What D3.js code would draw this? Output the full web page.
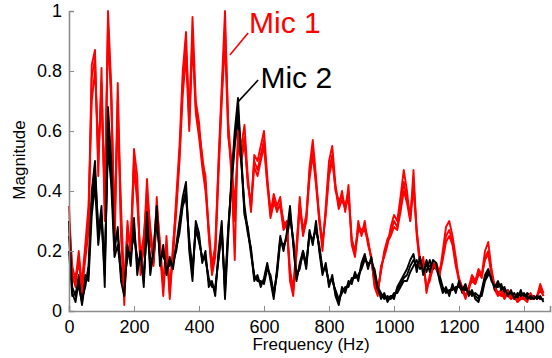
<!DOCTYPE html>
<html>
<head>
<meta charset="utf-8">
<script src="https://cdn.jsdelivr.net/npm/d3@7"></script>
<style>
  body { margin: 0; background: #fff; }
  text { font-family: "Liberation Sans", Arial, Helvetica, sans-serif; }
</style>
</head>
<body>
<div id="chart"></div>
<script>
// frequency grid, Hz (0..1460 every 10 Hz)
const freqs = d3.range(0, 1461, 10);

// Mic 1 traces (red)
const mic1_a = [0.35,0.12,0.08,0.18,0.06,0.2,0.3,0.82,0.87,0.45,0.81,0.3,1.0,0.75,0.25,0.76,0.3,0.02,0.28,0.2,
  0.54,0.45,0.12,0.22,0.44,0.25,0.15,0.38,0.2,0.05,0.22,0.04,0.2,0.38,0.55,0.8,0.93,0.62,0.98,0.7,
  0.63,0.5,0.45,0.25,0.13,0.2,0.5,0.75,1.0,0.6,0.45,0.17,0.6,0.55,0.62,0.45,0.33,0.52,0.5,0.55,
  0.6,0.45,0.32,0.39,0.35,0.38,0.28,0.3,0.1,0.05,0.2,0.38,0.25,0.3,0.48,0.57,0.45,0.3,0.2,0.35,
  0.5,0.55,0.42,0.35,0.4,0.33,0.42,0.22,0.18,0.3,0.25,0.3,0.22,0.18,0.08,0.05,0.15,0.18,0.22,0.28,
  0.32,0.3,0.38,0.47,0.4,0.3,0.47,0.25,0.15,0.18,0.06,0.12,0.16,0.14,0.12,0.2,0.28,0.3,0.25,0.18,
  0.1,0.07,0.04,0.08,0.12,0.1,0.14,0.12,0.2,0.23,0.14,0.08,0.06,0.07,0.05,0.07,0.04,0.05,0.03,0.05,
  0.04,0.03,0.06,0.04,0.05,0.09,0.06];
const mic1_b = [0.3,0.15,0.1,0.2,0.08,0.17,0.26,0.78,0.84,0.5,0.76,0.35,0.96,0.72,0.2,0.7,0.25,0.05,0.25,0.24,
  0.5,0.4,0.15,0.2,0.4,0.28,0.18,0.35,0.23,0.08,0.25,0.06,0.22,0.35,0.52,0.76,0.88,0.65,0.92,0.68,
  0.6,0.52,0.42,0.28,0.15,0.22,0.48,0.72,0.95,0.63,0.48,0.3,0.57,0.52,0.58,0.42,0.36,0.5,0.47,0.52,
  0.57,0.43,0.34,0.37,0.33,0.36,0.3,0.28,0.12,0.08,0.22,0.36,0.27,0.32,0.46,0.54,0.43,0.32,0.22,0.33,
  0.47,0.52,0.4,0.37,0.38,0.35,0.4,0.24,0.2,0.28,0.27,0.28,0.24,0.17,0.1,0.07,0.13,0.2,0.24,0.26,
  0.3,0.28,0.35,0.43,0.37,0.32,0.43,0.27,0.17,0.16,0.08,0.1,0.15,0.16,0.13,0.18,0.25,0.27,0.23,0.16,
  0.11,0.08,0.05,0.07,0.11,0.09,0.13,0.11,0.18,0.2,0.13,0.07,0.05,0.06,0.04,0.06,0.05,0.04,0.04,0.04,
  0.05,0.04,0.05,0.05,0.04,0.08,0.05];
const mic1_c = [0.28,0.1,0.12,0.15,0.1,0.22,0.35,0.7,0.8,0.55,0.7,0.4,0.92,0.7,0.3,0.65,0.35,0.08,0.3,0.18,
  0.48,0.36,0.18,0.25,0.38,0.22,0.2,0.32,0.18,0.1,0.2,0.08,0.18,0.33,0.5,0.72,0.85,0.6,0.9,0.66,
  0.58,0.48,0.4,0.26,0.12,0.18,0.45,0.7,0.9,0.58,0.5,0.35,0.55,0.5,0.56,0.44,0.34,0.48,0.45,0.5,
  0.55,0.42,0.31,0.36,0.34,0.35,0.27,0.29,0.14,0.07,0.19,0.34,0.26,0.3,0.44,0.52,0.42,0.3,0.23,0.32,
  0.45,0.5,0.41,0.34,0.37,0.34,0.38,0.23,0.19,0.27,0.26,0.27,0.23,0.18,0.09,0.06,0.14,0.19,0.23,0.25,
  0.28,0.27,0.33,0.4,0.36,0.3,0.41,0.26,0.16,0.17,0.07,0.11,0.14,0.15,0.12,0.17,0.23,0.25,0.22,0.15,
  0.1,0.07,0.05,0.08,0.1,0.09,0.12,0.12,0.17,0.19,0.12,0.08,0.06,0.05,0.05,0.05,0.04,0.05,0.03,0.04,
  0.04,0.05,0.04,0.04,0.05,0.07,0.05];

// Mic 2 traces (black)
const mic2_a = [0.3,0.06,0.03,0.1,0.02,0.1,0.12,0.4,0.5,0.25,0.35,0.08,0.68,0.5,0.2,0.28,0.1,0.05,0.22,0.15,
  0.31,0.12,0.2,0.08,0.33,0.12,0.2,0.35,0.15,0.22,0.12,0.18,0.14,0.22,0.3,0.38,0.43,0.2,0.1,0.3,
  0.26,0.16,0.2,0.08,0.1,0.05,0.2,0.3,0.04,0.25,0.45,0.6,0.71,0.5,0.32,0.28,0.2,0.1,0.12,0.08,
  0.11,0.16,0.1,0.04,0.14,0.25,0.2,0.26,0.35,0.22,0.1,0.16,0.2,0.14,0.27,0.22,0.3,0.2,0.12,0.16,
  0.08,0.12,0.05,0.02,0.08,0.06,0.1,0.09,0.13,0.1,0.16,0.19,0.14,0.18,0.12,0.08,0.04,0.06,0.03,0.05,
  0.04,0.08,0.1,0.12,0.14,0.17,0.19,0.13,0.18,0.12,0.17,0.13,0.17,0.16,0.1,0.06,0.08,0.05,0.09,0.06,
  0.1,0.07,0.09,0.05,0.07,0.04,0.03,0.07,0.12,0.14,0.1,0.08,0.1,0.07,0.08,0.05,0.07,0.04,0.06,0.05,
  0.06,0.04,0.05,0.04,0.05,0.04,0.04];
const mic2_b = [0.25,0.08,0.05,0.12,0.04,0.08,0.15,0.36,0.46,0.28,0.3,0.12,0.6,0.45,0.24,0.25,0.14,0.08,0.2,0.18,
  0.28,0.15,0.17,0.1,0.3,0.15,0.18,0.32,0.18,0.2,0.14,0.16,0.16,0.2,0.28,0.36,0.4,0.22,0.12,0.28,
  0.24,0.17,0.18,0.1,0.09,0.07,0.18,0.28,0.06,0.27,0.43,0.57,0.67,0.52,0.33,0.26,0.21,0.11,0.11,0.09,
  0.1,0.15,0.11,0.05,0.13,0.24,0.21,0.25,0.33,0.23,0.11,0.15,0.19,0.15,0.26,0.23,0.28,0.21,0.13,0.15,
  0.09,0.11,0.06,0.03,0.07,0.07,0.09,0.1,0.12,0.11,0.15,0.18,0.15,0.17,0.13,0.07,0.05,0.05,0.04,0.05,
  0.05,0.07,0.09,0.11,0.12,0.15,0.17,0.15,0.16,0.14,0.15,0.15,0.16,0.14,0.11,0.07,0.07,0.06,0.08,0.07,
  0.09,0.06,0.08,0.06,0.06,0.05,0.04,0.06,0.11,0.13,0.11,0.07,0.09,0.08,0.07,0.06,0.06,0.05,0.05,0.06,
  0.05,0.05,0.04,0.05,0.04,0.05,0.03];
const mic2_c = [0.2,0.05,0.06,0.08,0.03,0.12,0.1,0.32,0.42,0.22,0.32,0.15,0.55,0.42,0.18,0.22,0.12,0.1,0.18,0.2,
  0.25,0.18,0.15,0.12,0.27,0.18,0.16,0.3,0.2,0.18,0.16,0.15,0.17,0.21,0.26,0.35,0.38,0.24,0.14,0.27,
  0.23,0.18,0.17,0.11,0.08,0.08,0.17,0.26,0.08,0.28,0.42,0.55,0.64,0.5,0.35,0.27,0.19,0.12,0.1,0.1,
  0.09,0.14,0.12,0.06,0.12,0.23,0.22,0.24,0.31,0.24,0.12,0.14,0.2,0.16,0.25,0.24,0.27,0.22,0.14,0.14,
  0.1,0.1,0.07,0.04,0.06,0.08,0.08,0.11,0.11,0.12,0.14,0.17,0.16,0.16,0.14,0.08,0.06,0.04,0.05,0.04,
  0.06,0.06,0.08,0.1,0.1,0.13,0.15,0.17,0.14,0.16,0.13,0.17,0.14,0.15,0.12,0.08,0.06,0.07,0.07,0.08,
  0.08,0.07,0.07,0.07,0.05,0.06,0.05,0.05,0.1,0.12,0.12,0.08,0.08,0.09,0.06,0.07,0.05,0.06,0.04,0.07,
  0.04,0.06,0.05,0.04,0.05,0.04,0.04];

const xTicks = [0, 200, 400, 600, 800, 1000, 1200, 1400];
const yTicks = [0, 0.2, 0.4, 0.6, 0.8, 1];

// callouts: label anchor + leader line, in data units
const callouts = [
  {label: 'Mic 1', color: '#ff0000', at: [554, 0.927], from: [495, 0.853], to: [551, 0.927]},
  {label: 'Mic 2', color: '#000000', at: [589, 0.743], from: [520, 0.697], to: [582, 0.77]}
];

const W = 552, H = 358;
const margin = {top: 11, right: 2, bottom: 47, left: 69};

const svg = d3.select('#chart').append('svg')
    .attr('width', W).attr('height', H);

const x = d3.scaleLinear().domain([0, 1480]).range([margin.left, W - margin.right]);
const y = d3.scaleLinear().domain([0, 1]).range([H - margin.bottom, margin.top]);

const line = d3.line()
    .x((d, i) => x(freqs[i]))
    .y(d => y(d));

// interleave the traces so neither mic sits fully on top
const traces = [
  {v: mic1_c, c: '#ff0000'}, {v: mic2_c, c: '#000000'},
  {v: mic1_b, c: '#ff0000'}, {v: mic2_b, c: '#000000'},
  {v: mic1_a, c: '#ff0000'}, {v: mic2_a, c: '#000000'}
];

svg.append('g').selectAll('path')
    .data(traces)
    .enter().append('path')
    .attr('d', d => line(d.v))
    .attr('fill', 'none')
    .attr('stroke', d => d.c)
    .attr('stroke-width', 1.9)
    .attr('stroke-linejoin', 'round');

// axes, MATLAB-style inward ticks
const axisColor = '#8c8c8c';

const xAxis = svg.append('g')
    .attr('transform', `translate(0,${y(0)})`)
    .call(d3.axisBottom(x).tickValues(xTicks).tickSize(-5).tickPadding(9).tickFormat(d3.format('d')));
const yAxis = svg.append('g')
    .attr('transform', `translate(${x(0)},0)`)
    .call(d3.axisLeft(y).tickValues(yTicks).tickSize(-5).tickPadding(7).tickFormat(d => d === 0 || d === 1 ? d : d.toFixed(1)));

[xAxis, yAxis].forEach(g => {
  g.select('.domain').attr('stroke', axisColor).attr('stroke-width', 1.6);
  g.selectAll('.tick line').attr('stroke', axisColor).attr('stroke-width', 1);
  g.selectAll('.tick text')
      .attr('fill', '#000')
      .style('font-size', '18px')
      .style('font-family', '"Liberation Sans", Arial, sans-serif');
});
xAxis.selectAll('.tick text').attr('dy', '0.71em');

svg.append('text')
    .attr('x', 311).attr('y', 350)
    .attr('text-anchor', 'middle')
    .style('font-size', '17px')
    .text('Frequency (Hz)');

svg.append('text')
    .attr('transform', 'translate(25,160) rotate(-90)')
    .attr('text-anchor', 'middle')
    .style('font-size', '17px')
    .text('Magnitude');

const notes = svg.append('g');
callouts.forEach(c => {
  notes.append('line')
      .attr('x1', x(c.from[0])).attr('y1', y(c.from[1]))
      .attr('x2', x(c.to[0])).attr('y2', y(c.to[1]))
      .attr('stroke', c.color).attr('stroke-width', 1.6);
  notes.append('text')
      .attr('x', x(c.at[0])).attr('y', y(c.at[1]))
      .attr('fill', c.color)
      .style('font-size', '30px')
      .text(c.label);
});
</script>
</body>
</html>
